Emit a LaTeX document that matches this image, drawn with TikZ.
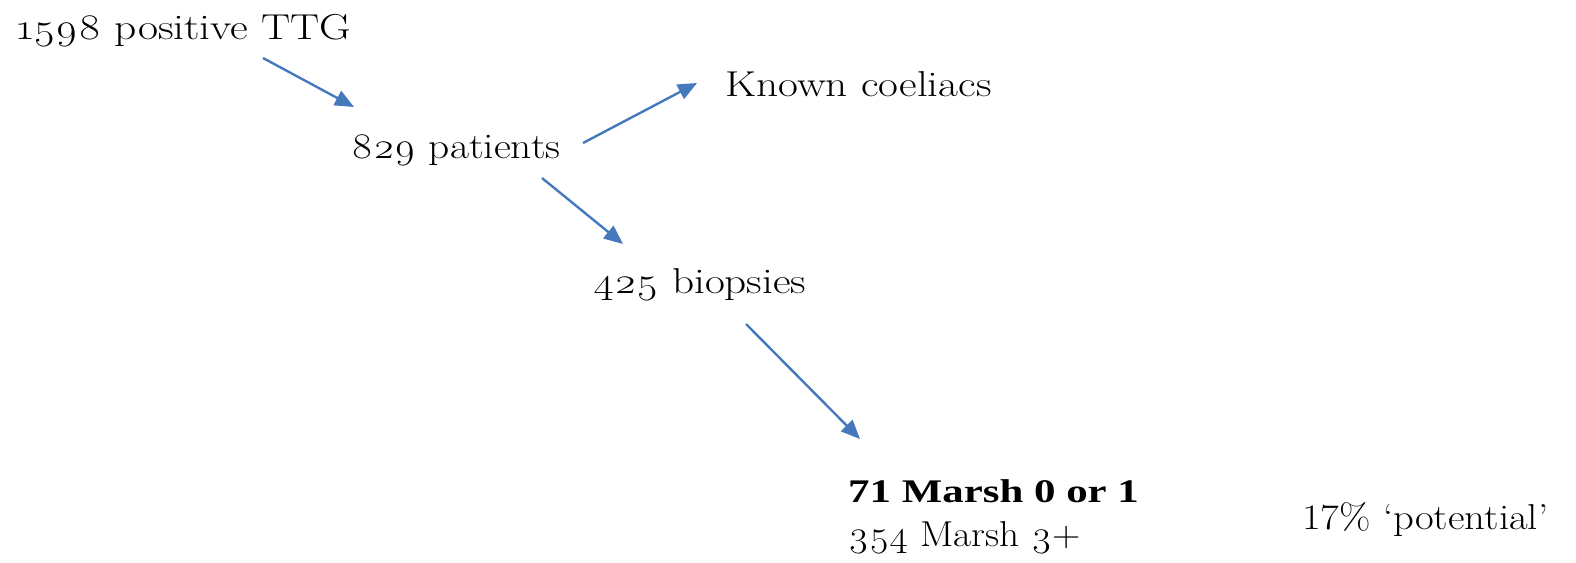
\documentclass[tikz,border=0pt]{standalone}
\usepackage{fontspec}
\usepackage{graphicx}
\setmainfont{Latin Modern Roman}[Numbers=OldStyle,Ligatures=TeX]
\newfontfamily\liningfont{Latin Modern Roman}[Numbers=Lining,Ligatures=TeX]
\newfontfamily\timesfont{Liberation Serif}[Ligatures=TeX]
\usetikzlibrary{arrows.meta}
\definecolor{arrblue}{RGB}{70,120,190}
\newcommand{\sxtxt}[2]{\scalebox{#1}[1]{#2}}
\tikzset{
  lbl/.style={anchor=base west, inner sep=0pt, font=\fontsize{36}{42}\selectfont},
  arr/.style={draw=arrblue, line width=2.4pt, -{Triangle[length=19pt,width=16pt]}}
}
\begin{document}
\begin{tikzpicture}[x=1pt,y=-1pt]
\useasboundingbox (0,0) rectangle (1576,562);
\node[lbl] (ttg) at (17,39) {\sxtxt{1.21}{1598 positive TTG}};
\node[lbl] (pat) at (351,158) {\sxtxt{1.15}{829 patients}};
\node[lbl] (known) at (725,96) {\sxtxt{1.2}{Known coeliacs}};
\node[lbl] (bio) at (593,293) {\sxtxt{1.2}{425 biopsies}};
\node[lbl, font=\fontsize{33}{39}\selectfont\timesfont\bfseries] (m01) at (848,502) {\sxtxt{1.3}{71 Marsh 0 or 1}};
\node[lbl] (m3) at (848,546) {\sxtxt{1.09}{354 Marsh 3+}};
\node[lbl, font=\fontsize{36}{42}\selectfont\liningfont] (pot) at (1302,529) {\sxtxt{1.13}{17\% ‘potential’}};
\coordinate (a1s) at (263,58);
\coordinate (a1e) at (354,107);
\coordinate (a2s) at (583,143);
\coordinate (a2e) at (697,83);
\coordinate (a3s) at (542,178);
\coordinate (a3e) at (623,244);
\coordinate (a4s) at (746,324);
\coordinate (a4e) at (860,439);
\draw[arr] (a1s) -- (a1e);
\draw[arr] (a2s) -- (a2e);
\draw[arr] (a3s) -- (a3e);
\draw[arr] (a4s) -- (a4e);
\end{tikzpicture}
\end{document}
